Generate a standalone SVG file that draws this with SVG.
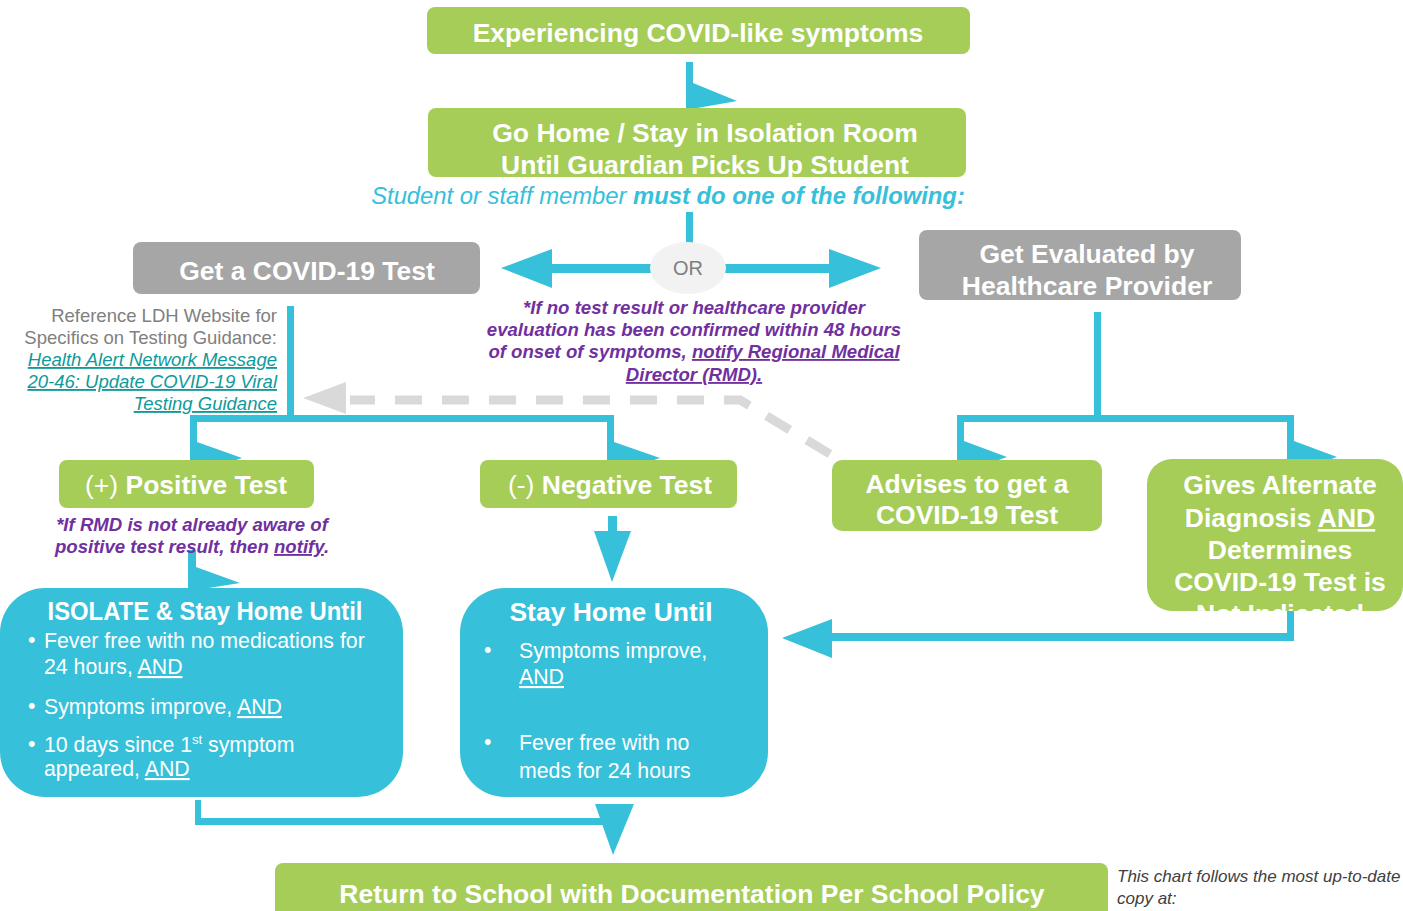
<svg xmlns="http://www.w3.org/2000/svg" width="1403" height="911" viewBox="0 0 1403 911">
<style>
text{font-family:"Liberation Sans",Arial,sans-serif}
.g{fill:#a5cd58}
.gr{fill:#a6a6a6}
.b{fill:#36c0da}
.t{fill:#fff;font-weight:bold;font-size:26.5px;text-anchor:middle}
.reg{font-weight:normal}
.bl{fill:#fff;font-size:21.3px}
.pu{fill:#7030a0;font-weight:bold;font-style:italic;font-size:18.6px;text-anchor:middle}
.ref{fill:#808080;font-size:18.5px;text-anchor:end}
.lnk{fill:#0e9a9a;font-style:italic;text-decoration:underline}
.u{text-decoration:underline}
</style>
<defs>
<clipPath id="clipGives"><rect x="1147" y="459" width="256" height="152" rx="25"/></clipPath>
</defs>

<g id="connectors">
  <polygon class="b" points="686,62 693,62 693,83 737,101 686,110"/>
  <rect class="b" x="686" y="212" width="7" height="32"/>
  <rect class="b" x="550" y="264" width="105" height="9"/>
  <polygon class="b" points="501,268 552,249 552,288"/>
  <rect class="b" x="722" y="264" width="110" height="9"/>
  <polygon class="b" points="881,268 829,249 829,288"/>
  <rect class="b" x="287" y="306" width="7" height="114"/>
  <rect class="b" x="190" y="415" width="424" height="7"/>
  <polygon class="b" points="190,418 197,418 197,442 242,458 190,476"/>
  <polygon class="b" points="607,418 614,418 614,442 660,458 607,476"/>
  <rect class="b" x="1094" y="312" width="7" height="108"/>
  <rect class="b" x="957" y="415" width="337" height="7"/>
  <polygon class="b" points="957,418 964,418 964,441 1007,457 957,475"/>
  <polygon class="b" points="1287,418 1294,418 1294,441 1337,457 1287,475"/>
  <polyline points="830,454 740,400 350,400" fill="none" stroke="#d9d9d9" stroke-width="9" stroke-dasharray="27 20"/>
  <polygon points="303,398 346,382 346,414" fill="#d9d9d9"/>
  <polygon class="b" points="188,550 196,550 196,567 240,583 196,590 188,590"/>
  <rect class="b" x="608" y="516" width="9" height="16"/>
  <polygon class="b" points="594,531 631,531 612,582"/>
  <rect class="b" x="1287" y="610" width="7" height="31"/>
  <rect class="b" x="828" y="633" width="466" height="8"/>
  <polygon class="b" points="782,638 832,619 832,658"/>
  <rect class="b" x="195" y="800" width="6" height="25"/>
  <rect class="b" x="195" y="818" width="412" height="7"/>
  <polygon class="b" points="595,804 634,804 613,855"/>
</g>

<g id="n-experiencing">
  <rect class="g" x="427" y="7" width="543" height="47" rx="8"/>
  <text class="t" x="698" y="42">Experiencing COVID-like symptoms</text>
</g>

<g id="n-gohome">
  <rect class="g" x="428" y="108" width="538" height="69" rx="8"/>
  <text class="t" x="705" y="142">Go Home / Stay in Isolation Room</text>
  <text class="t" x="705" y="174">Until Guardian Picks Up Student</text>
</g>

<g id="n-instruction">
  <text x="668" y="204" text-anchor="middle" font-size="23.8" font-style="italic" fill="#36c0da">Student or staff member <tspan font-weight="bold">must do one of the following:</tspan></text>
</g>

<g id="n-or">
  <ellipse cx="688" cy="268" rx="38" ry="26" fill="#f2f2f2"/>
  <text x="688" y="275" text-anchor="middle" font-size="20" fill="#7f7f7f">OR</text>
</g>

<g id="n-gettest">
  <rect class="gr" x="133" y="242" width="347" height="52" rx="8"/>
  <text class="t" x="307" y="280">Get a COVID-19 Test</text>
</g>

<g id="n-evaluated">
  <rect class="gr" x="919" y="230" width="322" height="70" rx="8"/>
  <text class="t" x="1087" y="263">Get Evaluated by</text>
  <text class="t" x="1087" y="295">Healthcare Provider</text>
</g>

<g id="n-reference">
  <text class="ref" x="277" y="322">Reference LDH Website for</text>
  <text class="ref" x="277" y="344">Specifics on Testing Guidance:</text>
  <text class="ref lnk" x="277" y="366">Health Alert Network Message</text>
  <text class="ref lnk" x="277" y="388">20-46: Update COVID-19 Viral</text>
  <text class="ref lnk" x="277" y="410">Testing Guidance</text>
</g>

<g id="n-rmdnote">
  <text class="pu" x="694" y="314">*If no test result or healthcare provider</text>
  <text class="pu" x="694" y="336">evaluation has been confirmed within 48 hours</text>
  <text class="pu" x="694" y="358">of onset of symptoms, <tspan class="u">notify Regional Medical</tspan></text>
  <text class="pu" x="694" y="381"><tspan class="u">Director (RMD).</tspan></text>
</g>

<g id="n-positive">
  <rect class="g" x="59" y="460" width="255" height="48" rx="8"/>
  <text class="t" x="186" y="494"><tspan class="reg">(+)</tspan> Positive Test</text>
</g>

<g id="n-posnote">
  <text class="pu" x="192" y="531">*If RMD is not already aware of</text>
  <text class="pu" x="192" y="553">positive test result, then <tspan class="u">notify</tspan>.</text>
</g>

<g id="n-negative">
  <rect class="g" x="480" y="460" width="257" height="48" rx="8"/>
  <text class="t" x="610" y="494"><tspan class="reg">(-)</tspan> Negative Test</text>
</g>

<g id="n-advises">
  <rect class="g" x="832" y="460" width="270" height="71" rx="10"/>
  <text class="t" x="967" y="493">Advises to get a</text>
  <text class="t" x="967" y="524">COVID-19 Test</text>
</g>

<g id="n-gives">
  <rect class="g" x="1147" y="459" width="256" height="152" rx="25"/>
  <g clip-path="url(#clipGives)">
    <text class="t" x="1280" y="494">Gives Alternate</text>
    <text class="t" x="1280" y="527">Diagnosis <tspan class="u">AND</tspan></text>
    <text class="t" x="1280" y="559">Determines</text>
    <text class="t" x="1280" y="591">COVID-19 Test is</text>
    <text class="t" x="1280" y="623">Not Indicated</text>
  </g>
</g>

<g id="n-isolate">
  <rect class="b" x="0" y="588" width="403" height="209" rx="45"/>
  <text class="t" x="205" y="620" font-size="24" textLength="315" lengthAdjust="spacingAndGlyphs">ISOLATE &amp; Stay Home Until</text>
  <text class="bl" x="28" y="647">•</text>
  <text class="bl" x="44" y="648">Fever free with no medications for</text>
  <text class="bl" x="44" y="674">24 hours, <tspan class="u">AND</tspan></text>
  <text class="bl" x="28" y="713">•</text>
  <text class="bl" x="44" y="714">Symptoms improve, <tspan class="u">AND</tspan></text>
  <text class="bl" x="28" y="751">•</text>
  <text class="bl" x="44" y="752">10 days since 1<tspan font-size="13" dy="-8">st</tspan><tspan dy="8"> symptom</tspan></text>
  <text class="bl" x="44" y="776">appeared, <tspan class="u">AND</tspan></text>
</g>

<g id="n-stayhome">
  <rect class="b" x="460" y="588" width="308" height="209" rx="45"/>
  <text class="t" x="611" y="621">Stay Home Until</text>
  <text class="bl" x="484" y="657">•</text>
  <text class="bl" x="519" y="658">Symptoms improve,</text>
  <text class="bl" x="519" y="684"><tspan class="u">AND</tspan></text>
  <text class="bl" x="484" y="749">•</text>
  <text class="bl" x="519" y="750">Fever free with no</text>
  <text class="bl" x="519" y="778">meds for 24 hours</text>
</g>

<g id="n-return">
  <rect class="g" x="275" y="863" width="833" height="60" rx="8"/>
  <text class="t" x="692" y="903">Return to School with Documentation Per School Policy</text>
</g>

<g id="n-footnote">
  <text x="1117" y="882" font-size="17" font-style="italic" fill="#404040">This chart follows the most up-to-date</text>
  <text x="1117" y="904" font-size="17" font-style="italic" fill="#404040">copy at:</text>
</g>
</svg>
